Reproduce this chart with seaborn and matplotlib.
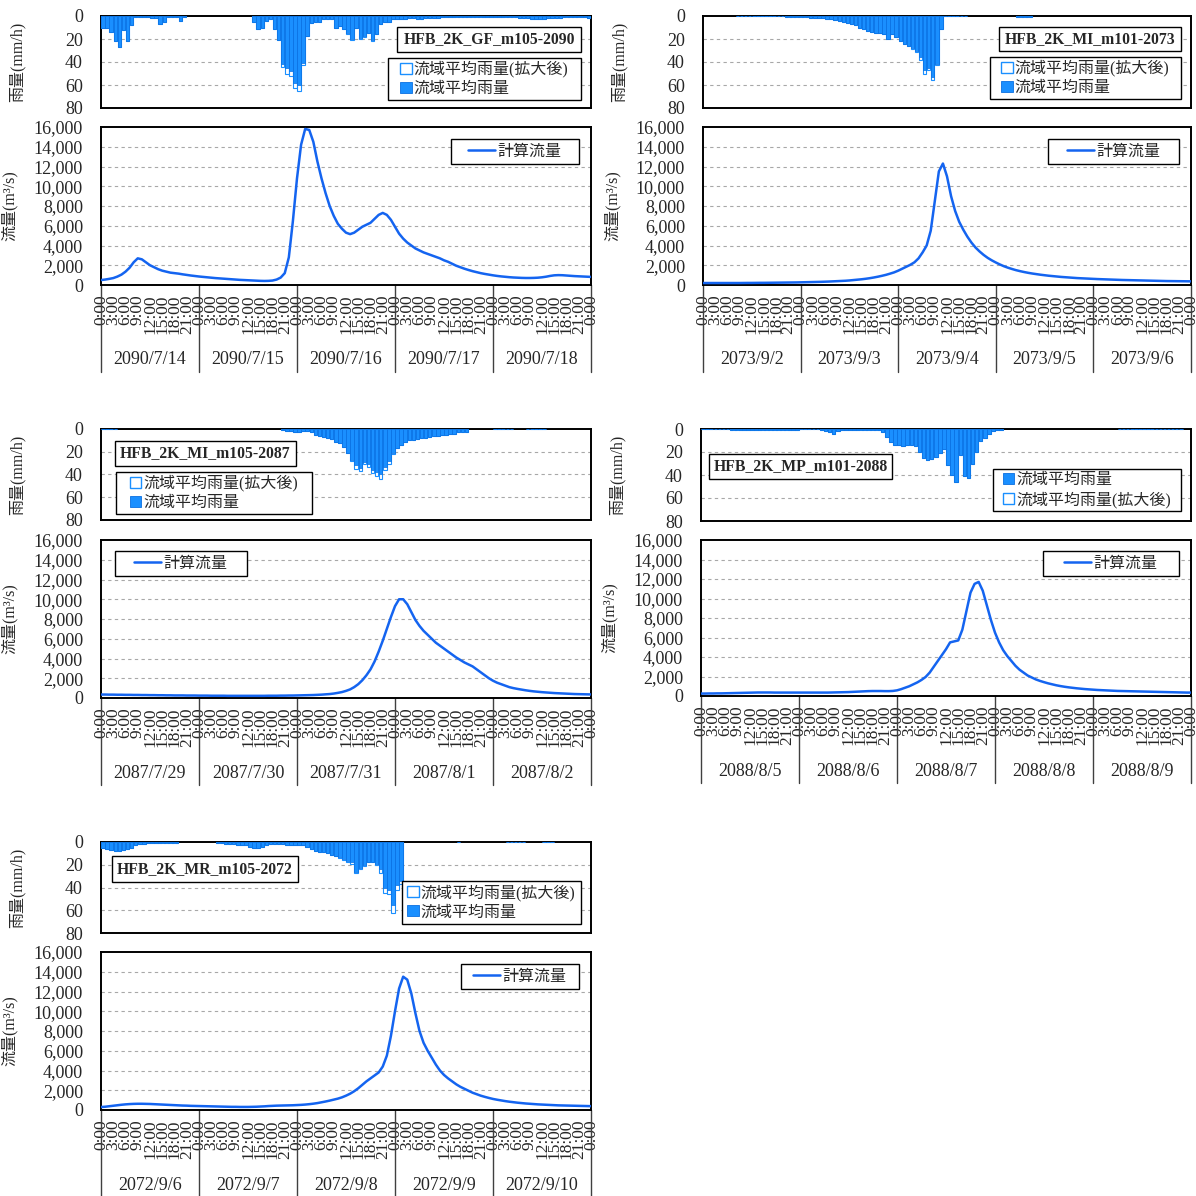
import numpy as np
import matplotlib
matplotlib.use('Agg')
import matplotlib.pyplot as plt
import matplotlib.transforms as mtrans
from matplotlib.patches import Patch, Rectangle
from matplotlib.lines import Line2D
from matplotlib.ticker import FuncFormatter
import seaborn as sns

# data (hourly, 5 days per chart)
names = ['HFB_2K_GF_m105-2090', 'HFB_2K_MI_m101-2073', 'HFB_2K_MI_m105-2087',
         'HFB_2K_MP_m101-2088', 'HFB_2K_MR_m105-2072']

dates_gf = ['2090/7/14', '2090/7/15', '2090/7/16', '2090/7/17', '2090/7/18']
dates_mi73 = ['2073/9/2', '2073/9/3', '2073/9/4', '2073/9/5', '2073/9/6']
dates_mi87 = ['2087/7/29', '2087/7/30', '2087/7/31', '2087/8/1', '2087/8/2']
dates_mp88 = ['2088/8/5', '2088/8/6', '2088/8/7', '2088/8/8', '2088/8/9']
dates_mr72 = ['2072/9/6', '2072/9/7', '2072/9/8', '2072/9/9', '2072/9/10']

hour_labels = ['0:00', '3:00', '6:00', '9:00', '12:00', '15:00', '18:00', '21:00']

# 流域平均雨量 (mm/h)
rain_gf = [10, 10, 14, 22, 27, 12, 22, 8, 1, 1, 0.5, 0.5, 2, 2, 7, 5, 1, 0.5, 1, 4, 1, 0, 0, 0,
           0, 0, 0, 0, 0, 0, 0, 0, 0, 0, 0, 0, 0, 5, 11, 10, 4, 3, 11, 21, 42, 45, 48, 58,
           60, 41, 17, 6, 5, 5, 3, 3, 3, 10, 9, 11, 15, 20, 10, 19, 17, 15, 21, 16, 7, 5, 5, 3,
           3, 3, 3, 2, 2, 3, 3, 2, 2, 2, 2, 1, 1, 1, 1, 1, 1, 1, 1, 1, 1, 1, 1, 1,
           1, 1, 1, 1, 1, 1, 2, 2, 2, 3, 3, 3, 3, 2, 2, 2, 2, 1, 1, 1, 1, 1, 1, 2]
rain_gf_exp = [10, 10, 14, 22, 27, 12, 22, 8, 1, 1, 0.5, 0.5, 2, 2, 7, 5, 1, 0.5, 1, 4, 1, 0, 0, 0,
               0, 0, 0, 0, 0, 0, 0, 0, 0, 0, 0, 0, 0, 5, 11, 10, 4, 3, 11, 21, 44, 50, 52, 63,
               65, 43, 17, 6, 5, 5, 3, 3, 3, 10, 9, 11, 16, 21, 10, 20, 18, 15, 22, 16, 7, 5, 5, 3,
               3, 3, 3, 2, 2, 3, 3, 2, 2, 2, 2, 1, 1, 1, 1, 1, 1, 1, 1, 1, 1, 1, 1, 1,
               1, 1, 1, 1, 1, 1, 2, 2, 2, 3, 3, 3, 3, 2, 2, 2, 2, 1, 1, 1, 1, 1, 1, 2]

rain_mi73 = [0, 0, 0, 0, 0, 0, 0, 0, 0.3, 0.3, 0.3, 0.3, 0.3, 0.3, 0.3, 0.3, 0.3, 0.3, 0.3, 0.3, 0.5, 0.5, 0.8, 1,
             1, 1.2, 1.5, 1.5, 2, 2, 2.5, 3, 3.5, 4, 5, 6, 7, 8, 10, 11, 13, 14, 15, 15, 16, 20, 16, 18,
             22, 24, 26, 28, 30, 36, 47, 45, 53, 42, 11, 0.3, 0.3, 0.3, 0.3, 0.3, 0.3, 0, 0, 0, 0, 0, 0, 0,
             0, 0, 0, 0, 0, 0.5, 0.5, 0.5, 0.5, 0, 0, 0, 0, 0, 0, 0, 0, 0, 0, 0, 0, 0, 0, 0,
             0, 0, 0, 0, 0, 0, 0, 0, 0, 0, 0, 0, 0, 0, 0, 0, 0, 0, 0, 0, 0, 0, 0, 0]
rain_mi73_exp = [0, 0, 0, 0, 0, 0, 0, 0, 0.3, 0.3, 0.3, 0.3, 0.3, 0.3, 0.3, 0.3, 0.3, 0.3, 0.3, 0.3, 0.5, 0.5, 0.8, 1,
                 1, 1.2, 1.5, 1.5, 2, 2, 2.5, 3, 3.5, 4, 5, 6, 7, 8, 10, 11, 13, 14, 15, 15, 16, 20, 16, 18,
                 22, 24, 26, 29, 31, 38, 50, 47, 56, 43, 11, 0.3, 0.3, 0.3, 0.3, 0.3, 0.3, 0, 0, 0, 0, 0, 0, 0,
                 0, 0, 0, 0, 0, 0.5, 0.5, 0.5, 0.5, 0, 0, 0, 0, 0, 0, 0, 0, 0, 0, 0, 0, 0, 0, 0,
                 0, 0, 0, 0, 0, 0, 0, 0, 0, 0, 0, 0, 0, 0, 0, 0, 0, 0, 0, 0, 0, 0, 0, 0]

rain_mi87 = [0.3, 0.3, 0.3, 0.3, 0, 0, 0, 0, 0, 0, 0, 0, 0, 0, 0, 0, 0, 0, 0, 0, 0, 0, 0, 0,
             0, 0, 0, 0, 0, 0, 0, 0, 0, 0, 0, 0, 0, 0, 0, 0, 0, 0, 0, 0, 1, 2, 2, 3,
             3, 2, 2, 3, 5, 6, 7, 8, 9, 11, 12, 16, 21, 27, 32, 34, 29, 31, 36, 38, 40, 33, 28, 21,
             17, 14, 11, 10, 10, 9, 8, 8, 7, 6, 6, 5, 5, 4, 4, 3, 3, 3, 0, 0, 0, 0, 0, 0,
             0.3, 0.3, 0.3, 0.3, 0.3, 0, 0, 0, 0.3, 0.3, 0.3, 0.3, 0.3, 0, 0, 0, 0, 0, 0, 0, 0, 0, 0, 0]
rain_mi87_exp = [0.3, 0.3, 0.3, 0.3, 0, 0, 0, 0, 0, 0, 0, 0, 0, 0, 0, 0, 0, 0, 0, 0, 0, 0, 0, 0,
                 0, 0, 0, 0, 0, 0, 0, 0, 0, 0, 0, 0, 0, 0, 0, 0, 0, 0, 0, 0, 1, 2, 2, 3,
                 3, 2, 2, 3, 5, 6, 7, 8, 9, 11, 12, 16, 21, 28, 35, 37, 31, 33, 39, 41, 44, 36, 31, 22,
                 17, 14, 11, 10, 10, 9, 8, 8, 7, 6, 6, 5, 5, 4, 4, 3, 3, 3, 0, 0, 0, 0, 0, 0,
                 0.3, 0.3, 0.3, 0.3, 0.3, 0, 0, 0, 0.3, 0.3, 0.3, 0.3, 0.3, 0, 0, 0, 0, 0, 0, 0, 0, 0, 0, 0]

rain_mp88 = [0.3, 0.3, 0.3, 0.3, 0.3, 0.3, 0.3, 1, 1, 1, 1, 0.5, 0.5, 0.5, 0.5, 0.5, 0.5, 0.5, 0.5, 0.5, 0.5, 0.5, 0.5, 0.5,
             0.3, 0.3, 0.3, 0.3, 0.3, 1, 2, 3, 4, 2, 1, 1, 1, 1, 1, 1, 1, 1, 1, 1, 3, 7, 11, 14,
             14, 15, 14, 14, 15, 20, 25, 27, 26, 24, 21, 17, 31, 40, 46, 23, 41, 43, 30, 20, 10, 8, 4, 1.5,
             1, 0.5, 0, 0, 0, 0, 0, 0, 0, 0, 0, 0, 0, 0, 0, 0, 0, 0, 0, 0, 0, 0, 0, 0,
             0, 0, 0, 0, 0, 0, 0.3, 0.3, 0.3, 0.3, 0.3, 0.3, 0.3, 0.3, 0.3, 0.3, 0.3, 0.3, 0.3, 0.3, 0.3, 0.3, 0, 0]
rain_mp88_exp = [0.3, 0.3, 0.3, 0.3, 0.3, 0.3, 0.3, 1, 1, 1, 1, 0.5, 0.5, 0.5, 0.5, 0.5, 0.5, 0.5, 0.5, 0.5, 0.5, 0.5, 0.5, 0.5,
                 0.3, 0.3, 0.3, 0.3, 0.3, 1, 2, 3, 4, 2, 1, 1, 1, 1, 1, 1, 1, 1, 1, 1, 3, 7, 11, 14,
                 14, 15, 14, 14, 15, 20, 25, 27, 26, 24, 21, 17, 31, 40, 46, 23, 41, 43, 30, 20, 10, 8, 4, 1.5,
                 1, 0.5, 0, 0, 0, 0, 0, 0, 0, 0, 0, 0, 0, 0, 0, 0, 0, 0, 0, 0, 0, 0, 0, 0,
                 0, 0, 0, 0, 0, 0, 0.3, 0.3, 0.3, 0.3, 0.3, 0.3, 0.3, 0.3, 0.3, 0.3, 0.3, 0.3, 0.3, 0.3, 0.3, 0.3, 0, 0]

rain_mr72 = [5, 6, 7, 8, 8, 7, 6, 5, 3, 2, 2, 1, 1, 1, 1, 1, 0.5, 0.5, 0.5, 0, 0, 0, 0, 0,
             0, 0, 0, 0, 1, 1, 1.5, 2, 2, 2.5, 3, 3, 4, 5, 5, 4, 3, 2, 2, 2, 2, 3, 3, 3,
             3, 3, 4, 6, 8, 9, 9, 10, 11, 12, 13, 15, 17, 18, 26, 23, 20, 18, 18, 19, 24, 40, 42, 55,
             38, 34, 0, 0, 0, 0, 0, 0, 0, 0, 0, 0, 0, 0, 0, 0.3, 0, 0, 0, 0, 0, 0, 0, 0,
             0, 0, 0, 0.3, 0.3, 0.3, 0.3, 0.3, 0, 0, 0, 0, 0.3, 0.3, 0.3, 0, 0, 0, 0, 0, 0, 0, 0, 0]
rain_mr72_exp = [5, 6, 7, 8, 8, 7, 6, 5, 3, 2, 2, 1, 1, 1, 1, 1, 0.5, 0.5, 0.5, 0, 0, 0, 0, 0,
                 0, 0, 0, 0, 1, 1, 1.5, 2, 2, 2.5, 3, 3, 4, 5, 5, 4, 3, 2, 2, 2, 2, 3, 3, 3,
                 3, 3, 4, 6, 8, 9, 9, 10, 11, 12, 14, 16, 18, 19, 27, 24, 21, 18, 18, 20, 27, 45, 46, 62,
                 42, 37, 0, 0, 0, 0, 0, 0, 0, 0, 0, 0, 0, 0, 0, 0.3, 0, 0, 0, 0, 0, 0, 0, 0,
                 0, 0, 0, 0.3, 0.3, 0.3, 0.3, 0.3, 0, 0, 0, 0, 0.3, 0.3, 0.3, 0, 0, 0, 0, 0, 0, 0, 0, 0]

# 計算流量 (m3/s), hours 0..120
flow_gf = [500, 550, 620, 700, 850, 1050, 1350, 1750, 2300, 2700, 2600, 2300, 2000, 1800, 1600, 1450, 1350, 1250, 1200, 1150, 1080, 1020, 960, 910,
           860, 820, 780, 740, 700, 670, 640, 610, 580, 550, 520, 500, 480, 460, 440, 420, 410, 420, 450, 550, 750, 1200, 2800, 6500,
           10800, 14200, 15800, 15700, 14500, 12500, 10800, 9300, 8000, 7000, 6200, 5700, 5300, 5150, 5300, 5600, 5900, 6100, 6300, 6700, 7100, 7300, 7100, 6600,
           5900, 5200, 4700, 4300, 4000, 3700, 3500, 3300, 3150, 3000, 2850, 2700, 2500, 2350, 2150, 1950, 1800, 1650, 1520, 1400, 1300, 1200, 1120, 1050,
           980, 920, 870, 830, 790, 760, 740, 720, 710, 710, 720, 740, 780, 840, 920, 980, 1000, 990, 960, 930, 900, 880, 860, 840, 820]
flow_mi73 = [200, 200, 200, 200, 200, 200, 200, 200, 200, 200, 205, 210, 210, 215, 220, 220, 225, 230, 235, 240, 245, 250, 255, 260,
             270, 280, 290, 300, 310, 320, 335, 350, 370, 390, 410, 430, 460, 500, 540, 580, 630, 690, 760, 840, 930, 1030, 1150, 1280,
             1450, 1650, 1850, 2050, 2300, 2700, 3300, 4000, 5500, 8500, 11500, 12300, 11000, 9000, 7500, 6400, 5600, 4900, 4300, 3800, 3400, 3050, 2750, 2500,
             2280, 2080, 1900, 1750, 1620, 1500, 1400, 1310, 1230, 1160, 1100, 1040, 990, 940, 900, 860, 820, 790, 760, 730, 700, 680, 660, 640,
             620, 600, 585, 570, 555, 540, 525, 510, 500, 490, 480, 470, 460, 450, 440, 430, 420, 410, 400, 395, 390, 385, 380, 375, 370]
flow_mi87 = [350, 350, 340, 340, 330, 330, 320, 320, 310, 310, 300, 300, 290, 290, 280, 280, 270, 270, 260, 260, 260, 250, 250, 250,
             240, 240, 240, 230, 230, 230, 230, 220, 220, 220, 220, 220, 220, 220, 220, 220, 220, 230, 230, 230, 240, 240, 250, 250,
             260, 270, 280, 290, 300, 320, 340, 370, 400, 450, 520, 600, 720, 870, 1100, 1400, 1800, 2300, 2900, 3700, 4700, 5800, 7000, 8200,
             9300, 10000, 10000, 9500, 8700, 7900, 7300, 6800, 6400, 6000, 5600, 5300, 5000, 4700, 4400, 4100, 3850, 3600, 3400, 3200, 2900, 2600, 2300, 2000,
             1750, 1550, 1400, 1250, 1100, 1000, 920, 850, 780, 720, 670, 630, 590, 560, 530, 500, 480, 460, 440, 420, 400, 390, 380, 370, 360]
flow_mp88 = [250, 250, 260, 260, 270, 270, 280, 290, 300, 310, 320, 330, 340, 350, 360, 360, 360, 360, 350, 350, 350, 350, 350, 350,
             350, 350, 350, 350, 350, 350, 350, 350, 360, 370, 380, 390, 400, 420, 440, 460, 480, 500, 510, 510, 510, 500, 500, 520,
             580, 700, 850, 1000, 1200, 1400, 1650, 1950, 2400, 3000, 3600, 4200, 4800, 5500, 5600, 5700, 6800, 8700, 10600, 11500, 11700, 10800, 9300, 7800,
             6500, 5500, 4700, 4100, 3600, 3100, 2700, 2400, 2100, 1900, 1700, 1550, 1420, 1300, 1200, 1100, 1020, 950, 890, 840, 790, 750, 710, 680,
             650, 620, 600, 580, 560, 540, 520, 510, 500, 490, 480, 470, 460, 450, 440, 430, 420, 410, 400, 390, 380, 370, 360, 350, 350]
flow_mr72 = [300, 330, 380, 430, 480, 530, 570, 600, 620, 630, 630, 620, 610, 590, 570, 550, 530, 510, 490, 470, 450, 440, 420, 410,
             400, 390, 380, 370, 360, 350, 340, 330, 320, 320, 310, 310, 310, 320, 330, 350, 370, 400, 420, 440, 450, 460, 470, 480,
             500, 520, 550, 590, 640, 700, 780, 860, 950, 1050, 1150, 1280, 1450, 1650, 1900, 2200, 2550, 2900, 3200, 3500, 3800, 4400, 5500, 7500,
             10000, 12300, 13500, 13200, 11800, 9800, 8000, 6800, 6000, 5300, 4600, 4000, 3550, 3200, 2900, 2600, 2350, 2150, 1950, 1750, 1600, 1450, 1330, 1220,
             1120, 1040, 970, 900, 840, 790, 740, 700, 660, 630, 600, 570, 550, 530, 510, 490, 470, 460, 450, 440, 430, 420, 410, 400, 390]

# layout in pixels of the 1196x1196 picture
layout = [
    dict(l=101, r=591, rain=(16, 108), flow=(127, 285), name_box=(397, 27, 581, 52),
         rain_box=(388, 58, 581, 100), flow_box=(451, 139, 579, 164), exp_first=True),
    dict(l=703, r=1191, rain=(16, 108), flow=(127, 285), name_box=(999, 27, 1181, 51),
         rain_box=(990, 57, 1181, 99), flow_box=(1048, 139, 1179, 164), exp_first=True),
    dict(l=101, r=591, rain=(429, 520), flow=(540, 698), name_box=(115, 441, 296, 466),
         rain_box=(116, 472, 312, 514), flow_box=(115, 551, 247, 576), exp_first=True),
    dict(l=701, r=1191, rain=(429, 521), flow=(540, 696), name_box=(709, 454, 892, 479),
         rain_box=(993, 469, 1181, 511), flow_box=(1043, 551, 1179, 576), exp_first=False),
    dict(l=101, r=591, rain=(842, 933), flow=(952, 1110), name_box=(112, 856, 298, 882),
         rain_box=(402, 881, 581, 924), flow_box=(461, 964, 579, 989), exp_first=True),
]

charts = list(zip(names,
                  [dates_gf, dates_mi73, dates_mi87, dates_mp88, dates_mr72],
                  [rain_gf, rain_mi73, rain_mi87, rain_mp88, rain_mr72],
                  [rain_gf_exp, rain_mi73_exp, rain_mi87_exp, rain_mp88_exp, rain_mr72_exp],
                  [flow_gf, flow_mi73, flow_mi87, flow_mp88, flow_mr72],
                  layout))

RAIN_C = '#1a8fff'
RAIN_EDGE = '#0a6fe0'
FLOW_C = '#1464f0'
GRID_C = '#a8a8a8'
SIZE = 1196

sns.set_theme(style='white')
plt.rcParams['font.family'] = ['Liberation Serif', 'Noto Sans CJK JP']
plt.rcParams['axes.edgecolor'] = 'black'


def fx(x):
    return x / SIZE


def fy(y):
    return 1 - y / SIZE


def px_axes(fig, l, r, top, bottom):
    return fig.add_axes([fx(l), fy(bottom), (r - l) / SIZE, (bottom - top) / SIZE])


def draw_box(fig, box):
    x0, y0, x1, y1 = box
    fig.add_artist(Rectangle((fx(x0), fy(y1)), (x1 - x0) / SIZE, (y1 - y0) / SIZE,
                             transform=fig.transFigure, facecolor='white',
                             edgecolor='black', linewidth=1.0, zorder=4))


def draw_chart(fig, name, dates, rain, rain_exp, flow, lay):
    l, r = lay['l'], lay['r']
    ax_r = px_axes(fig, l, r, *lay['rain'])
    ax_q = px_axes(fig, l, r, *lay['flow'])

    # rain (hanging bars)
    hours = np.arange(120) + 0.5
    rain = np.array(rain, dtype=float)
    rain_exp = np.array(rain_exp, dtype=float)
    m = rain_exp > 0
    ax_r.bar(hours[m], rain_exp[m], width=0.85, color='white', edgecolor=RAIN_C,
             linewidth=0.8, zorder=3)
    m = rain > 0
    ax_r.bar(hours[m], rain[m], width=0.85, color=RAIN_C, edgecolor=RAIN_EDGE,
             linewidth=0.5, zorder=3)
    ax_r.set_xlim(0, 120)
    ax_r.set_ylim(80, 0)
    ax_r.set_xticks([])
    ax_r.set_yticks([0, 20, 40, 60, 80])
    for g in [20, 40, 60]:
        ax_r.axhline(g, color=GRID_C, lw=0.8, ls=(0, (3, 3)), zorder=1)
    ax_r.tick_params(axis='y', length=0, pad=13, labelsize=13)
    ax_r.set_ylabel('雨量(mm/h)', fontsize=11.5)
    ax_r.yaxis.set_label_coords(-0.155, 0.5)

    # flow
    sns.lineplot(x=np.arange(121), y=flow, ax=ax_q, color=FLOW_C, linewidth=1.8,
                 legend=False, zorder=3)
    ax_q.set_xlim(0, 120)
    ax_q.set_ylim(0, 16000)
    ax_q.set_yticks(range(0, 16001, 2000))
    ax_q.yaxis.set_major_formatter(FuncFormatter(lambda v, p: f'{int(v):,}'))
    for g in range(2000, 16000, 2000):
        ax_q.axhline(g, color=GRID_C, lw=0.8, ls=(0, (3, 3)), zorder=1)
    ax_q.set_xticks(range(0, 121, 3))
    ax_q.set_xticklabels([hour_labels[i % 8] for i in range(41)], rotation=90)
    ax_q.tick_params(axis='y', length=0, pad=13, labelsize=13)
    ax_q.tick_params(axis='x', length=0, pad=7, labelsize=12.5)
    ax_q.set_xlabel('')
    ax_q.set_ylabel('流量(m³/s)', fontsize=11.5)
    ax_q.yaxis.set_label_coords(-0.169, 0.5)

    h = lay['flow'][1] - lay['flow'][0]
    trans = mtrans.blended_transform_factory(ax_q.transData, ax_q.transAxes)
    for d in range(6):
        ax_q.plot([d * 24, d * 24], [0, -87 / h], transform=trans, color='#404040',
                  lw=1.0, clip_on=False)
    for d, lab in enumerate(dates):
        ax_q.text(d * 24 + 12, -75 / h, lab, transform=trans, ha='center',
                  va='center', fontsize=13)

    for ax in (ax_r, ax_q):
        for s in ax.spines.values():
            s.set_linewidth(1.4)
            s.set_color('black')
            s.set_zorder(2.5)

    # name box
    draw_box(fig, lay['name_box'])
    x0, y0, x1, y1 = lay['name_box']
    fig.text(fx((x0 + x1) / 2), fy((y0 + y1) / 2), name, ha='center', va='center',
             fontsize=11.3, fontweight='bold', zorder=5)

    # legends
    h_exp = Patch(facecolor='white', edgecolor=RAIN_C, linewidth=1.0, label='流域平均雨量(拡大後)')
    h_base = Patch(facecolor=RAIN_C, edgecolor=RAIN_EDGE, linewidth=0.6, label='流域平均雨量')
    handles = [h_exp, h_base] if lay['exp_first'] else [h_base, h_exp]
    for box, hs, hl in [(lay['rain_box'], handles, 0.7),
                        (lay['flow_box'], [Line2D([], [], color=FLOW_C, lw=1.8, label='計算流量')], 1.7)]:
        draw_box(fig, box)
        x0, y0, x1, y1 = box
        leg = fig.legend(handles=hs, loc='center',
                         bbox_to_anchor=(fx(x0), fy(y1), (x1 - x0) / SIZE, (y1 - y0) / SIZE),
                         bbox_transform=fig.transFigure, frameon=False, fontsize=11.5,
                         handlelength=hl, handleheight=0.7, handletextpad=0.15,
                         borderpad=0, borderaxespad=0, labelspacing=0.2)
        leg.set_zorder(6)


fig = plt.figure(figsize=(11.96, 11.96), dpi=100)
for name, dates, rain, rain_exp, flow, lay in charts:
    draw_chart(fig, name, dates, rain, rain_exp, flow, lay)

fig.savefig('out.png', dpi=100, facecolor='white')
